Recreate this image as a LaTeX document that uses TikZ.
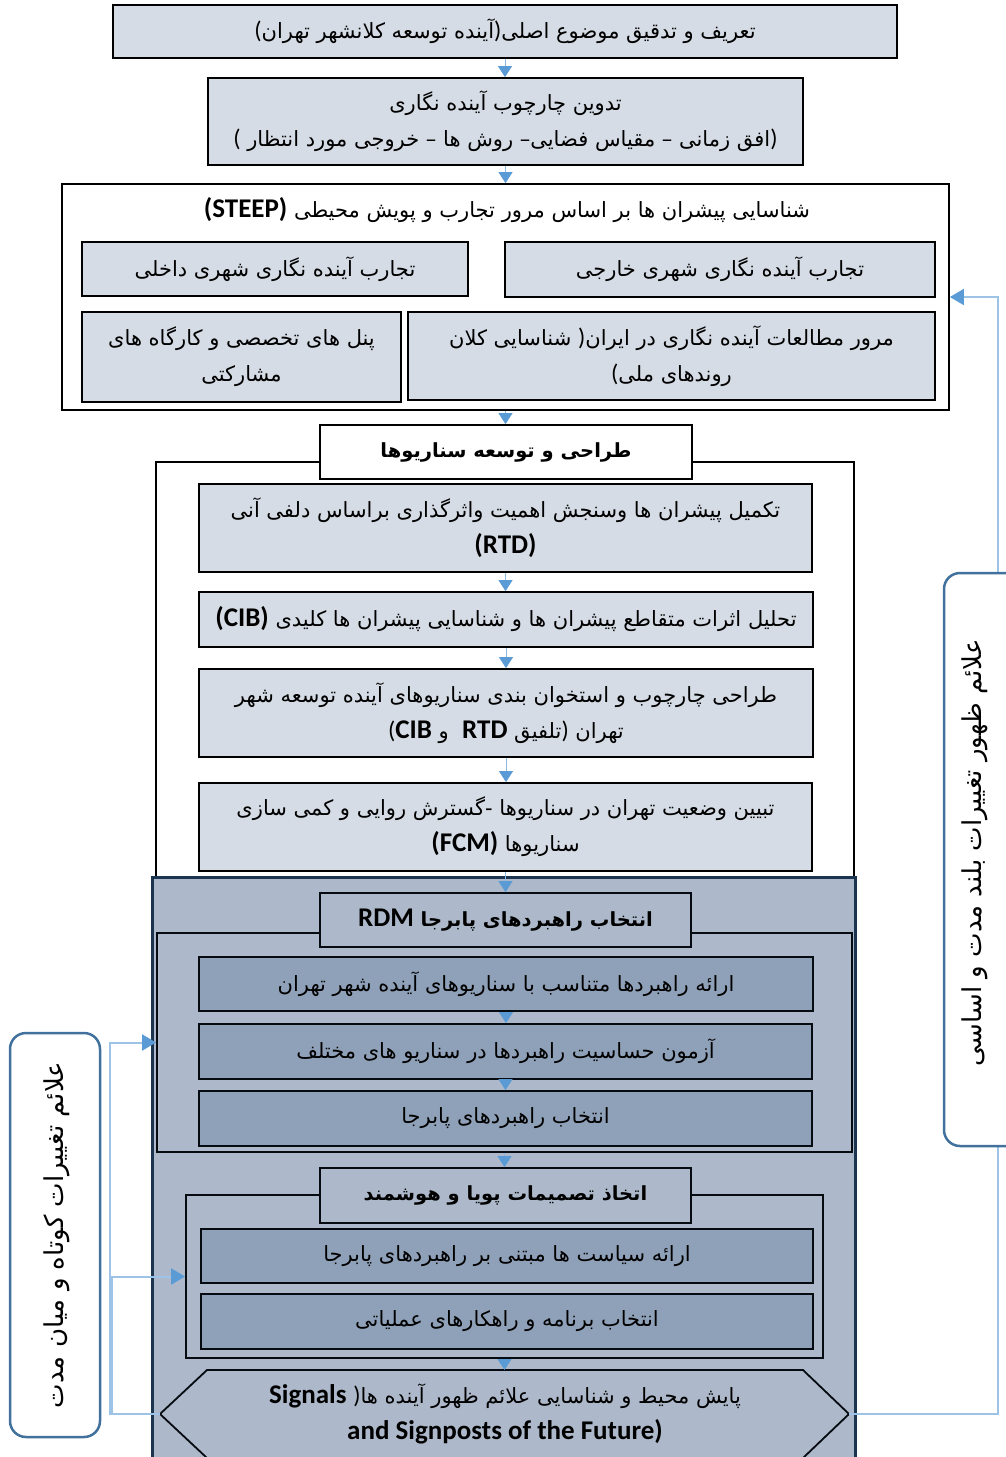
\documentclass[tikz,border=0pt]{standalone}
\usepackage{fontspec}
\usetikzlibrary{arrows.meta}
\TeXXeTstate=1
\newfontfamily\fa[Script=Arabic]{DejaVu Sans}
\newfontfamily\lat{Carlito}
\definecolor{lightfill}{HTML}{D6DCE5}
\definecolor{darkbg}{HTML}{ADB9CA}
\definecolor{midfill}{HTML}{8FA1B8}
\definecolor{navy}{HTML}{1B3550}
\definecolor{arrowblue}{HTML}{5B9BD5}
\definecolor{linkblue}{HTML}{9DC3E6}
\definecolor{panelblue}{HTML}{41719C}
\newcommand\pO{{\lat\fontsize{24}{36}\selectfont)}}
\newcommand\pC{{\lat\fontsize{24}{36}\selectfont(}}
\newcommand\ltn[1]{\beginL{\lat\bfseries\fontsize{27}{36}\selectfont #1}\endL}
\tikzset{
  box/.style={draw=black, line width=1.8pt, fill=lightfill, inner sep=0pt, align=center,
    font=\fa\fontsize{21}{36}\selectfont},
  frame/.style={draw=black, line width=1.8pt, fill=white, inner sep=0pt},
  titlebox/.style={box, fill=white, font=\fa\bfseries\fontsize{19.5}{36}\selectfont},
  darktitle/.style={titlebox, fill=darkbg, draw=black!80!navy},
  darkbox/.style={box, fill=midfill, draw=black!80!navy},
  region/.style={draw=navy, line width=3pt, fill=darkbg, inner sep=0pt},
  subframe/.style={draw=black!80!navy, line width=1.8pt, inner sep=0pt},
  flow/.style={draw=arrowblue!70, line width=0.8pt, -{Triangle[width=14pt,length=11pt,color=arrowblue]}},
  link/.style={draw=linkblue, line width=2pt, -{Triangle[width=16pt,length=14pt,color=arrowblue]}},
  panel/.style={draw=panelblue, line width=2.5pt, fill=white, rounded corners=16pt, inner sep=0pt},
  paneltext/.style={rotate=90, font=\fa\fontsize{26}{30}\selectfont},
  hexshape/.style={draw=black!80!navy, line width=1.8pt, fill=darkbg},
  plain/.style={inner sep=0pt, align=center, font=\fa\fontsize{21}{36}\selectfont}
}
\begin{document}
\begin{tikzpicture}[x=1pt,y=-1pt]
\useasboundingbox (0,0) rectangle (1006,1457);
% top boxes
\node[box, minimum width=784pt, minimum height=53pt] (n1) at (505,31.5)
  {\beginR تعریف و تدقیق موضوع اصلی\pO آینده توسعه کلانشهر تهران\pC\endR};
\node[box, minimum width=595pt, minimum height=87pt] (n2) at (505.5,121.5)
  {\beginR تدوین چارچوب آینده نگاری\endR\\
   \beginR\pO افق زمانی – مقیاس فضایی– روش ها – خروجی مورد انتظار \pC\endR};
% STEEP container
\node[frame, minimum width=887pt, minimum height=226pt] (c3) at (505.5,297) {};
\node[plain] (t3) at (507,210)
  {\beginR شناسایی پیشران ها بر اساس مرور تجارب و پویش محیطی \ltn{(STEEP)}\endR};
\node[box, minimum width=430pt, minimum height=55pt] (n3a) at (720,269.5)
  {\beginR تجارب آینده نگاری شهری خارجی\endR};
\node[box, minimum width=386pt, minimum height=54pt] (n3b) at (275,269)
  {\beginR تجارب آینده نگاری شهری داخلی\endR};
\node[box, minimum width=527pt, minimum height=88pt] (n3c) at (671.5,356)
  {\beginR مرور مطالعات آینده نگاری در ایران\pO\ شناسایی کلان\endR\\
   \beginR روندهای ملی\pC\endR};
\node[box, minimum width=319pt, minimum height=90pt] (n3d) at (241.5,357)
  {\beginR پنل های تخصصی و کارگاه های\endR\\ \beginR مشارکتی\endR};
% scenario container
\node[frame, minimum width=698pt, minimum height=418pt] (c4) at (505,671) {};
\node[titlebox, minimum width=372pt, minimum height=54pt] (t4) at (506,452)
  {\beginR طراحی و توسعه سناریوها\endR};
\node[box, minimum width=613pt, minimum height=88pt] (n4a) at (505.5,528)
  {\beginR تکمیل پیشران ها وسنجش اهمیت واثرگذاری براساس دلفی آنی\endR\\ \ltn{(RTD)}};
\node[box, minimum width=614pt, minimum height=55pt] (n4b) at (506,619.5)
  {\beginR تحلیل اثرات متقاطع پیشران ها و شناسایی پیشران ها کلیدی \ltn{(CIB)}\endR};
\node[box, minimum width=614pt, minimum height=88pt] (n4c) at (506,713)
  {\beginR طراحی چارچوب و استخوان بندی سناریوهای آینده توسعه شهر\endR\\
   \beginR تهران \pO تلفیق \ltn{RTD}\ \ و \ltn{CIB}\pC\endR};
\node[box, minimum width=613pt, minimum height=88pt] (n4d) at (505.5,827)
  {\beginR تبیین وضعیت تهران در سناریوها -گسترش روایی و کمی سازی\endR\\
   \beginR سناریوها \ltn{(FCM)}\endR};
% dark region
\node[region, minimum width=703pt, minimum height=600pt] (dark) at (503.5,1177) {};
\node[subframe, minimum width=695pt, minimum height=219pt] (c5) at (504.5,1042.5) {};
\node[darktitle, minimum width=371pt, minimum height=54pt] (t5) at (505.5,920)
  {\beginR انتخاب راهبردهای پابرجا \ltn{RDM}\endR};
\node[darkbox, minimum width=614pt, minimum height=54pt] (n5a) at (506,984)
  {\beginR ارائه راهبردها متناسب با سناریوهای آینده شهر تهران\endR};
\node[darkbox, minimum width=613pt, minimum height=55pt] (n5b) at (505.5,1051.5)
  {\beginR آزمون حساسیت راهبردها در سناریو های مختلف\endR};
\node[darkbox, minimum width=613pt, minimum height=55pt] (n5c) at (505.5,1118.5)
  {\beginR انتخاب راهبردهای پابرجا\endR};
\node[subframe, minimum width=637pt, minimum height=163pt] (c6) at (504.5,1276.5) {};
\node[darktitle, minimum width=371pt, minimum height=55pt] (t6) at (505.5,1195.5)
  {\beginR اتخاذ تصمیمات پویا و هوشمند\endR};
\node[darkbox, minimum width=612pt, minimum height=54pt] (n6a) at (507,1256)
  {\beginR ارائه سیاست ها مبتنی بر راهبردهای پابرجا\endR};
\node[darkbox, minimum width=612pt, minimum height=55pt] (n6b) at (507,1321.5)
  {\beginR انتخاب برنامه و راهکارهای عملیاتی\endR};
% hexagon
\draw[hexshape] (160,1414) -- (207,1370) -- (803,1370) -- (849,1414) -- (803,1458) -- (207,1458) -- cycle;
\coordinate (hexW) at (160,1414);
\coordinate (hexE) at (849,1414);
\coordinate (hexN) at (505,1370);
\node[plain] (hex) at (505,1414)
  {\beginR پایش محیط و شناسایی علائم ظهور آینده ها\pO\ \ltn{Signals}\endR\\
   {\lat\bfseries\fontsize{27}{36}\selectfont and Signposts of the Future)}};
% flow arrows
\draw[flow] (n1.south) -- (n1.south |- n2.north);
\draw[flow] (n2.south) -- (n2.south |- c3.north);
\draw[flow] (c3.south) -- (c3.south |- t4.north);
\draw[flow] (n4a.south) -- (n4a.south |- n4b.north);
\draw[flow] (n4b.south) -- (n4b.south |- n4c.north);
\draw[flow] (n4c.south) -- (n4c.south |- n4d.north);
\draw[flow] (n4d.south) -- (n4d.south |- t5.north);
\draw[flow] (n5a.south) -- (n5a.south |- n5b.north);
\draw[flow] (n5b.south) -- (n5b.south |- n5c.north);
\draw[flow] (c5.south) -- (c5.south |- t6.north);
\draw[flow] (c6.south) -- (c6.south |- hexN);
% feedback links
\draw[link] (hexE) -- ++(149,0) |- (c3.east);
\draw[link] (hexW) -- ++(-50,0) |- (c5.west);
\draw[link] (hexW) -- ++(-48,0) |- (c6.west);
% side panels
\node[panel, minimum width=80pt, minimum height=573pt] (pR) at (984,859.5) {};
\node[paneltext] (pRt) at (975,853) {\beginR علائم ظهور تغییرات بلند مدت و اساسی\endR};
\node[panel, minimum width=90pt, minimum height=404pt] (pL) at (55,1235) {};
\node[paneltext] (pLt) at (57,1235) {\beginR علائم تغییرات کوتاه و میان مدت\endR};
\end{tikzpicture}
\end{document}
